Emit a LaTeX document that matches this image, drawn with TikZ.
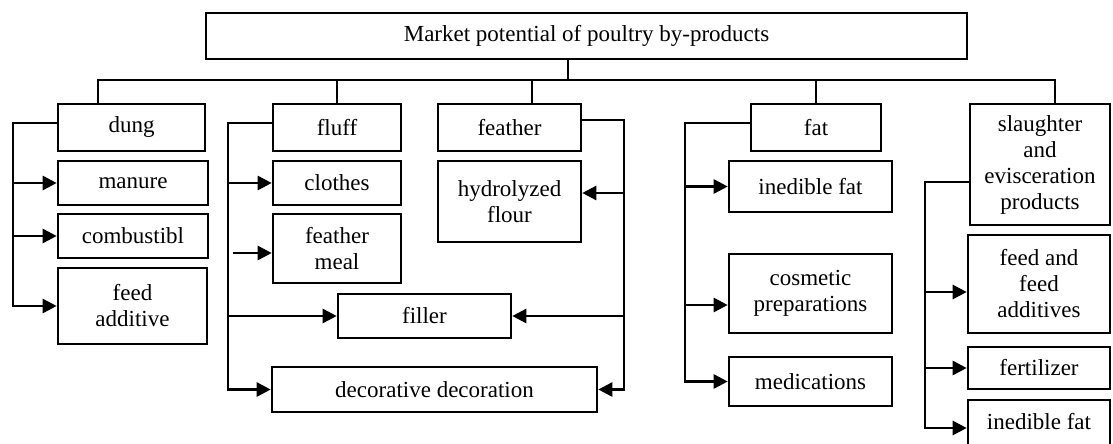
\documentclass[tikz,border=0pt]{standalone}
\usepackage{fontspec}
\setmainfont{Liberation Serif}
\usetikzlibrary{arrows.meta}
\tikzset{
	box/.style={rectangle,draw,line width=2.6pt,align=center,inner sep=0pt,font=\fontsize{23}{26}\selectfont},
	link/.style={line width=2.6pt},
	edge/.style={-{Triangle[length=14pt,width=14pt]},line width=2.6pt}
}
\begin{document}
\begin{tikzpicture}[x=1pt,y=-1pt]
	\useasboundingbox (0,0) rectangle (1113,444);
	\node[box,minimum width=761pt,minimum height=46pt] (title) at (586.5,36) {Market potential of poultry by-products};
	
	\node[box,minimum width=147pt,minimum height=47pt] (dung) at (131.5,127.5) {dung};
	\node[box,minimum width=150pt,minimum height=44pt] (manure) at (133,183) {manure};
	\node[box,minimum width=150pt,minimum height=44pt] (combustibl) at (133,236) {combustibl};
	\node[box,minimum width=149pt,minimum height=76pt] (feedadd) at (132.5,306) {feed\\additive};
	
	\node[box,minimum width=128pt,minimum height=47pt] (fluff) at (337,127.5) {fluff};
	\node[box,minimum width=128pt,minimum height=44pt] (clothes) at (337,183) {clothes};
	\node[box,minimum width=128pt,minimum height=69pt] (meal) at (337,248.5) {feather\\meal};
	\node[box,minimum width=173pt,minimum height=44pt] (filler) at (424.5,316) {filler};
	\node[box,minimum width=325pt,minimum height=45pt] (decor) at (434.5,389.5) {decorative decoration};
	
	\node[box,minimum width=143pt,minimum height=47pt] (feather) at (509.5,127.5) {feather};
	\node[box,minimum width=143pt,minimum height=81pt] (flour) at (509.5,201.5) {hydrolyzed\\flour};
	
	\node[box,minimum width=130pt,minimum height=47pt] (fat) at (816,127.5) {fat};
	\node[box,minimum width=163pt,minimum height=51pt] (inedible) at (810.5,186.5) {inedible fat};
	\node[box,minimum width=163pt,minimum height=79pt] (cosmetic) at (810.5,293.5) {cosmetic\\preparations};
	\node[box,minimum width=163pt,minimum height=49pt] (medications) at (810.5,381.5) {medications};
	
	\node[box,minimum width=140pt,minimum height=121pt] (slaughter) at (1040,164.5) {slaughter\\and\\evisceration\\products};
	\node[box,minimum width=142pt,minimum height=98pt] (feed) at (1039,284) {feed and\\feed\\additives};
	\node[box,minimum width=142pt,minimum height=42pt] (fertilizer) at (1039,368) {fertilizer};
	\node[box,minimum width=142pt,minimum height=60pt,text depth=18pt] (inediblefat) at (1039,430) {inedible fat};
	
	\coordinate (bus) at (568,80);
	\coordinate (busL) at (98,80);
	\coordinate (busR) at (1055,80);
	\coordinate (featherdrop) at (532,80);
	\coordinate (dungbar) at (13,0);
	\coordinate (fluffbar) at (228,0);
	\coordinate (featherbar) at (624,0);
	\coordinate (fatbar) at (685,0);
	\coordinate (slaughterbar) at (925,0);
	\coordinate (mealstart) at (233,253);
	\coordinate (flourin) at ([yshift=8.5pt]flour.east);
	\coordinate (cosmeticin) at ([yshift=-11.5pt]cosmetic.west);
	\coordinate (feedin) at ([yshift=-8pt]feed.west);
	\coordinate (inediblein) at ([yshift=2pt]inediblefat.west);
	
	\draw[link] (title.south -| bus) -- (bus);
	\draw[link] (dung.north -| busL) -- (busL) -- (busR) -- (busR |- slaughter.north);
	\draw[link] (fluff.north) -- (fluff.north |- bus);
	\draw[link] (featherdrop) -- (featherdrop |- feather.north);
	\draw[link] (fat.north) -- (fat.north |- bus);
	
	\draw[edge] ([yshift=4.5pt]dung.west) -| (dungbar |- feedadd.west) -- (feedadd.west);
	\draw[edge] (dungbar |- manure.west) -- (manure.west);
	\draw[edge] (dungbar |- combustibl.west) -- (combustibl.west);
	
	\draw[edge] ([yshift=4.5pt]fluff.west) -| (fluffbar |- decor.west) -- (decor.west);
	\draw[edge] (fluffbar |- clothes.west) -- (clothes.west);
	\draw[edge] (mealstart) -- (mealstart -| meal.west);
	\draw[edge] (fluffbar |- filler.west) -- (filler.west);
	
	\draw[edge] ([yshift=7.5pt]feather.east) -| (featherbar |- decor.east) -- (decor.east);
	\draw[edge] (featherbar |- flourin) -- (flourin);
	\draw[edge] (featherbar |- filler.east) -- (filler.east);
	
	\draw[edge] ([yshift=4.5pt]fat.west) -| (fatbar |- medications.west) -- (medications.west);
	\draw[edge] (fatbar |- inedible.west) -- (inedible.west);
	\draw[edge] (fatbar |- cosmeticin) -- (cosmeticin);
	
	\draw[edge] ([yshift=-17.5pt]slaughter.west) -| (slaughterbar |- inediblein) -- (inediblein);
	\draw[edge] (slaughterbar |- feedin) -- (feedin);
	\draw[edge] (slaughterbar |- fertilizer.west) -- (fertilizer.west);
\end{tikzpicture}
\end{document}
